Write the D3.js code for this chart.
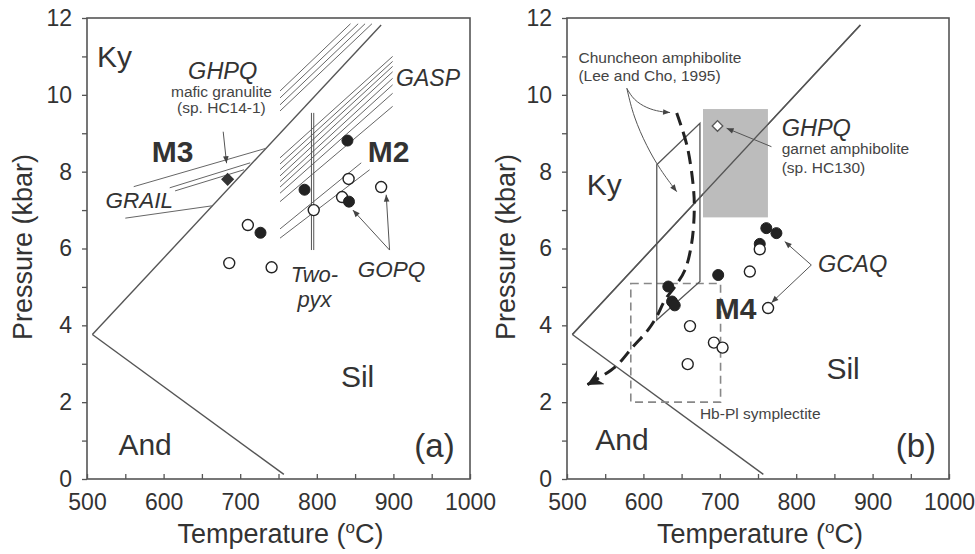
<!DOCTYPE html>
<html>
<head>
<meta charset="utf-8">
<script src="https://cdn.jsdelivr.net/npm/d3@7"></script>
<style>
  body { margin: 0; background: #fff; }
  svg { font-family: "Liberation Sans", Arial, sans-serif; }
  .axis text { font-size: 23px; fill: #333; }
  .axis line { stroke: #555; stroke-width: 1.3; }
</style>
</head>
<body>
<svg id="chart" width="975" height="554"></svg>
<script>
//////////////////////////////////////////////
// Data //////////////////////////////////////
//////////////////////////////////////////////
// ticks
var tempTicks = [500, 600, 700, 800, 900, 1000];
var presTicks = [0, 2, 4, 6, 8, 10, 12];

// Al2SiO5 reactions (T degC, P kbar)
var kySilLine = [[507, 3.76], [884, 11.82]];
var andSilLine = [[507, 3.76], [757, 0.12]];

// panel (a) - GASP hatching [T1, P1, T2, P2]
var gaspUpper = [
  [752, 10.10, 844, 11.85], [752, 9.92, 854, 11.85],
  [752, 9.74, 863, 11.85], [752, 9.58, 872, 11.85]
];
var gaspLower = [
  [752, 8.36, 899, 11.00], [752, 8.20, 899, 10.87], [752, 8.05, 899, 10.74],
  [752, 7.89, 899, 10.60], [752, 7.74, 899, 10.43], [752, 7.60, 899, 10.26],
  [752, 7.44, 899, 10.04], [752, 7.22, 899, 9.70],
  [752, 6.51, 858, 8.23], [752, 6.27, 869, 8.05]
];
var grailLines = [
  [561, 7.61, 734, 8.61], [608, 7.58, 713, 8.23],
  [615, 7.50, 705, 8.05], [550, 6.79, 663, 7.11]
];
var twoPyxLines = [[793, 9.53, 793, 5.96], [796, 9.53, 796, 5.96]];

// panel (a) - P-T estimates
var ptFilledA = [[840, 8.81], [784, 7.53], [842, 7.22], [726.5, 6.41]];
var ptOpenA = [[841.5, 7.81], [884, 7.60], [833, 7.34], [796, 7.00], [710, 6.61], [685.7, 5.62], [741, 5.51]];
var diamondA = [[683.6, 7.80]];

// panel (b)
var ptFilledB = [[760.9, 6.53], [774.1, 6.40], [752.3, 6.12], [697.9, 5.31], [632.6, 5.01], [637.5, 4.62], [641, 4.52]];
var ptOpenB = [[752.3, 5.98], [739.3, 5.40], [763.2, 4.45], [661, 3.98], [692.3, 3.55], [703.6, 3.42], [658, 2.99]];
var diamondB = [[697, 9.19]];
var ghpqBox = [678, 763, 6.81, 9.63];          // Tmin, Tmax, Pmin, Pmax
var symplectiteBox = [583.5, 701, 2.0, 5.09];  // Tmin, Tmax, Pmin, Pmax
var chuncheonBox = [[617.5, 8.18], [674, 9.26], [674, 5.14], [617.5, 4.14]];
var ptPath = [
  [643.6, 9.53], [657.4, 8.65], [665.3, 7.61], [666.6, 7.01], [663.2, 6.14],
  [654.4, 5.44], [641.4, 5.01], [628.3, 4.66], [617.5, 4.23], [606.1, 3.88],
  [586.6, 3.45], [563.2, 2.92], [526.1, 2.45]
];

// leader lines (pointer arrows)
var leadersA = [
  [[677.8, 9.04], [682.2, 8.22]],
  [[895, 5.96], [847.1, 7.00]],
  [[895, 5.96], [890.6, 7.40]]
];
var leadersB = [
  [[767.6, 8.65], [708.9, 9.13]],
  [[819.8, 5.57], [785, 6.18]],
  [[819.8, 5.57], [767.6, 4.59]]
];
var curvedLeadersB = [
  [[578.3, 10.17], [587, 9.87], [604.5, 9.65], [621.9, 9.56], [634.9, 9.54]],
  [[578.3, 10.17], [587, 9.43], [604.5, 8.65], [621.9, 8.05], [643.6, 7.48]]
];

//////////////////////////////////////////////
// Chart Config /////////////////////////////
//////////////////////////////////////////////
var svg = d3.select("#chart");
var top_ = 18, bottom = 479;

var defs = svg.append("defs");
defs.append("marker")
    .attr("id", "tip")
    .attr("viewBox", "0 -5 10 10")
    .attr("refX", 10).attr("refY", 0)
    .attr("markerWidth", 9).attr("markerHeight", 7)
    .attr("markerUnits", "userSpaceOnUse")
    .attr("orient", "auto")
  .append("path")
    .attr("d", "M0,-4L10,0L0,4Z")
    .attr("fill", "#444");
defs.append("marker")
    .attr("id", "bigtip")
    .attr("viewBox", "0 -5 10 10")
    .attr("refX", 10).attr("refY", 0)
    .attr("markerWidth", 20).attr("markerHeight", 16)
    .attr("markerUnits", "userSpaceOnUse")
    .attr("orient", "auto")
  .append("path")
    .attr("d", "M0,-5L10,0L0,5L3,0Z")
    .attr("fill", "#222");

function drawPanel(left, right, titleX) {
  var x = d3.scaleLinear().domain([500, 1000]).range([left, right]);
  var y = d3.scaleLinear().domain([0, 12]).range([bottom, top_]);
  var g = svg.append("g");

  // axes
  var xAxis = d3.axisBottom(x)
      .tickValues(d3.range(500, 1001, 50))
      .tickSize(-5).tickPadding(15)
      .tickFormat(function(d) { return tempTicks.indexOf(d) >= 0 ? d : ""; });
  var yAxis = d3.axisLeft(y)
      .tickValues(d3.range(0, 13, 1))
      .tickSize(5).tickPadding(10)
      .tickFormat(function(d) { return presTicks.indexOf(d) >= 0 ? d : ""; });

  g.append("g").attr("class", "axis")
      .attr("transform", "translate(0," + bottom + ")")
      .call(xAxis).call(function(s) { s.select(".domain").remove(); });
  g.append("g").attr("class", "axis")
      .attr("transform", "translate(" + left + ",0)")
      .call(yAxis).call(function(s) { s.select(".domain").remove(); });

  g.append("rect")
      .attr("x", left).attr("y", top_)
      .attr("width", right - left).attr("height", bottom - top_)
      .attr("fill", "none").attr("stroke", "#555").attr("stroke-width", 1.6);

  // axis titles
  var xt = g.append("text")
      .attr("x", (left + right) / 2 + 2).attr("y", 543)
      .attr("text-anchor", "middle")
      .style("font-size", "27px").style("fill", "#333");
  xt.append("tspan").text("Temperature (");
  xt.append("tspan").text("o").attr("dy", -10).style("font-size", "17px");
  xt.append("tspan").text("C)").attr("dy", 10);

  g.append("text")
      .attr("transform", "translate(" + titleX + "," + 247 + ") rotate(-90)")
      .attr("text-anchor", "middle")
      .style("font-size", "27px").style("fill", "#333")
      .text("Pressure (kbar)");

  var line = d3.line().x(function(d) { return x(d[0]); }).y(function(d) { return y(d[1]); });

  // Al2SiO5 lines
  [kySilLine, andSilLine].forEach(function(l) {
    g.append("path").attr("d", line(l))
        .attr("fill", "none").attr("stroke", "#555").attr("stroke-width", 1.4);
  });

  return { g: g, x: x, y: y, line: line };
}

function segs(p, data, color, w) {
  p.g.selectAll(null).data(data).enter().append("line")
      .attr("x1", function(d) { return p.x(d[0]); })
      .attr("y1", function(d) { return p.y(d[1]); })
      .attr("x2", function(d) { return p.x(d[2]); })
      .attr("y2", function(d) { return p.y(d[3]); })
      .attr("stroke", color).attr("stroke-width", w);
}

function circles(p, data, filled) {
  p.g.selectAll(null).data(data).enter().append("circle")
      .attr("cx", function(d) { return p.x(d[0]); })
      .attr("cy", function(d) { return p.y(d[1]); })
      .attr("r", 5.5)
      .attr("fill", filled ? "#222" : "#fff")
      .attr("stroke", "#222").attr("stroke-width", filled ? 1 : 1.4);
}

function diamonds(p, data, filled) {
  p.g.selectAll(null).data(data).enter().append("path")
      .attr("d", d3.symbol(d3.symbolSquare, filled ? 64 : 56))
      .attr("transform", function(d) { return "translate(" + p.x(d[0]) + "," + p.y(d[1]) + ") rotate(45)"; })
      .attr("fill", filled ? "#333" : "#fff")
      .attr("stroke", filled ? "#333" : "#555").attr("stroke-width", 1.3);
}

function label(p, T, P, txt, size, opt) {
  opt = opt || {};
  return p.g.append("text")
      .attr("x", p.x(T)).attr("y", p.y(P))
      .attr("text-anchor", opt.anchor || "start")
      .style("font-size", size + "px")
      .style("font-style", opt.italic ? "italic" : "normal")
      .style("font-weight", opt.bold ? "bold" : "normal")
      .style("fill", opt.color || "#333")
      .text(txt);
}

function leaders(p, data, curved) {
  var ln = d3.line().x(function(d) { return p.x(d[0]); }).y(function(d) { return p.y(d[1]); });
  if (curved) ln.curve(d3.curveBasis);
  p.g.selectAll(null).data(data).enter().append("path")
      .attr("d", ln)
      .attr("fill", "none").attr("stroke", "#555").attr("stroke-width", 1)
      .attr("marker-end", "url(#tip)");
}

//////////////////////////////////////////////
// Panel (a) /////////////////////////////////
//////////////////////////////////////////////
var pa = drawPanel(87, 470, 32);
segs(pa, gaspUpper, "#666", 1);
segs(pa, gaspLower, "#666", 1);
segs(pa, grailLines, "#666", 1);
segs(pa, twoPyxLines, "#555", 1);
circles(pa, ptOpenA, false);
circles(pa, ptFilledA, true);
diamonds(pa, diamondA, true);
leaders(pa, leadersA, false);

label(pa, 513, 10.72, "Ky", 30);
label(pa, 632, 10.42, "GHPQ", 23.5, { italic: true });
label(pa, 675.5, 9.94, "mafic granulite", 15.5, { anchor: "middle", color: "#444" });
label(pa, 675.5, 9.52, "(sp. HC14-1)", 15.5, { anchor: "middle", color: "#444" });
label(pa, 584.5, 8.26, "M3", 30, { bold: true });
label(pa, 866.5, 8.26, "M2", 30, { bold: true });
label(pa, 524, 7.05, "GRAIL", 22.5, { italic: true });
label(pa, 903.5, 10.22, "GASP", 23, { italic: true });
label(pa, 853.5, 5.27, "GOPQ", 22.5, { italic: true });
label(pa, 797, 5.13, "Two-", 22, { italic: true, anchor: "middle" });
label(pa, 797, 4.48, "pyx", 22, { italic: true, anchor: "middle" });
label(pa, 831.5, 2.40, "Sil", 30);
label(pa, 541, 0.62, "And", 30);
label(pa, 980, 0.57, "(a)", 33, { anchor: "end" });

//////////////////////////////////////////////
// Panel (b) /////////////////////////////////
//////////////////////////////////////////////
var pb = drawPanel(567, 949, 515);

pb.g.append("rect")
    .attr("x", pb.x(ghpqBox[0])).attr("y", pb.y(ghpqBox[3]))
    .attr("width", pb.x(ghpqBox[1]) - pb.x(ghpqBox[0]))
    .attr("height", pb.y(ghpqBox[2]) - pb.y(ghpqBox[3]))
    .attr("fill", "#bcbcbc");
// redraw Ky-Sil on top of the grey box
pb.g.append("path").attr("d", pb.line(kySilLine))
    .attr("fill", "none").attr("stroke", "#555").attr("stroke-width", 1.4);

pb.g.append("rect")
    .attr("x", pb.x(symplectiteBox[0])).attr("y", pb.y(symplectiteBox[3]))
    .attr("width", pb.x(symplectiteBox[1]) - pb.x(symplectiteBox[0]))
    .attr("height", pb.y(symplectiteBox[2]) - pb.y(symplectiteBox[3]))
    .attr("fill", "none").attr("stroke", "#888").attr("stroke-width", 1.6)
    .attr("stroke-dasharray", "8,5");

pb.g.append("path")
    .attr("d", pb.line(chuncheonBox) + "Z")
    .attr("fill", "none").attr("stroke", "#555").attr("stroke-width", 1.3);

pb.g.append("path")
    .attr("d", d3.line().curve(d3.curveCatmullRom)
        .x(function(d) { return pb.x(d[0]); })
        .y(function(d) { return pb.y(d[1]); })(ptPath))
    .attr("fill", "none").attr("stroke", "#222").attr("stroke-width", 3)
    .attr("stroke-dasharray", "13,7")
    .attr("marker-end", "url(#bigtip)");

circles(pb, ptFilledB, true);
circles(pb, ptOpenB, false);
diamonds(pb, diamondB, false);
leaders(pb, leadersB, false);
leaders(pb, curvedLeadersB, true);

label(pb, 515, 10.83, "Chuncheon amphibolite", 15.5, { color: "#444" });
label(pb, 515, 10.36, "(Lee and Cho, 1995)", 15.5, { color: "#444" });
label(pb, 781, 8.92, "GHPQ", 23.5, { italic: true });
label(pb, 781, 8.47, "garnet amphibolite", 15.5, { color: "#444" });
label(pb, 781, 7.97, "(sp. HC130)", 15.5, { color: "#444" });
label(pb, 526, 7.40, "Ky", 30);
label(pb, 828.5, 5.40, "GCAQ", 23.5, { italic: true });
label(pb, 693.5, 4.17, "M4", 30, { bold: true });
label(pb, 839.5, 2.61, "Sil", 30);
label(pb, 537, 0.75, "And", 30);
label(pb, 983, 0.57, "(b)", 33, { anchor: "end" });
label(pb, 674, 1.57, "Hb-Pl symplectite", 15.5, { color: "#444" });
</script>
</body>
</html>
